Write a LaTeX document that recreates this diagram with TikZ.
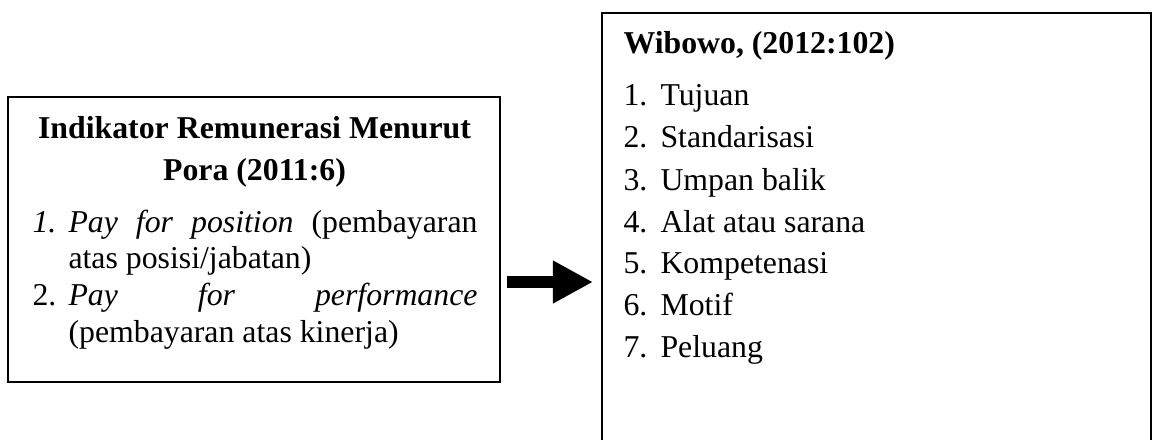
\documentclass[tikz,border=0pt]{standalone}
\usepackage{fontspec}
\setmainfont{Liberation Serif}
\usetikzlibrary{arrows.meta}
\newlength\px
\setlength\px{0.3774pt}
\begin{document}
\begin{tikzpicture}[x=1\px,y=-1\px,
  box/.style={draw,line width=2\px,inner sep=0pt},
  txt/.style={anchor=base west,inner sep=0pt,font=\fontsize{12}{14}\selectfont},
  ctr/.style={anchor=base,inner sep=0pt,font=\fontsize{12}{14}\selectfont\bfseries},
  bigarrow/.style={line width=4.9pt,-{Triangle[length=15.1pt,width=15.1pt]}}]
\useasboundingbox (0,0) rectangle (1152,439);
\clip (0,0) rectangle (1152,439);
% left box
\node[box,minimum width=492\px,minimum height=285\px] (left) at (254,239.5) {};
\node[ctr] (lt1) at (254.5,138) {Indikator Remunerasi Menurut};
\node[ctr] (lt2) at (254.5,180) {Pora (2011:6)};
\node[txt] (ln1) at (32,232) {\textit{1.}};
\node[txt] (li1) at (68,232) {\makebox[409\px][s]{\textit{Pay}\hfill\textit{for}\hfill\textit{position}\hfill(pembayaran}};
\node[txt] (li1b) at (68,268) {atas posisi/jabatan)};
\node[txt] (ln2) at (32,305) {2.};
\node[txt] (li2) at (68,305) {\makebox[409\px][s]{\textit{Pay}\hfill\textit{for}\hfill\textit{performance}}};
\node[txt] (li2b) at (68,342) {(pembayaran atas kinerja)};
% right box (open at the bottom edge of the picture)
\node[box,minimum width=549\px,minimum height=460\px,anchor=north west] (right) at (601,12) {};
\node[txt,font=\fontsize{12}{14}\selectfont\bfseries] (rt) at (623,53) {Wibowo, (2012:102)};
\foreach \i/\y/\t in {1/105/Tujuan,2/147.5/Standarisasi,3/190/Umpan balik,4/232/Alat atau sarana,5/273.5/Kompetenasi,6/315/Motif,7/357/Peluang}{
  \node[txt] (rn\i) at (623,\y) {\i.};
  \node[txt] (ri\i) at (660,\y) {\t};
}
% arrow
\coordinate (a1) at (507,282);
\coordinate (a2) at (593,282);
\draw[bigarrow] (a1) -- (a2);
\end{tikzpicture}
\end{document}
